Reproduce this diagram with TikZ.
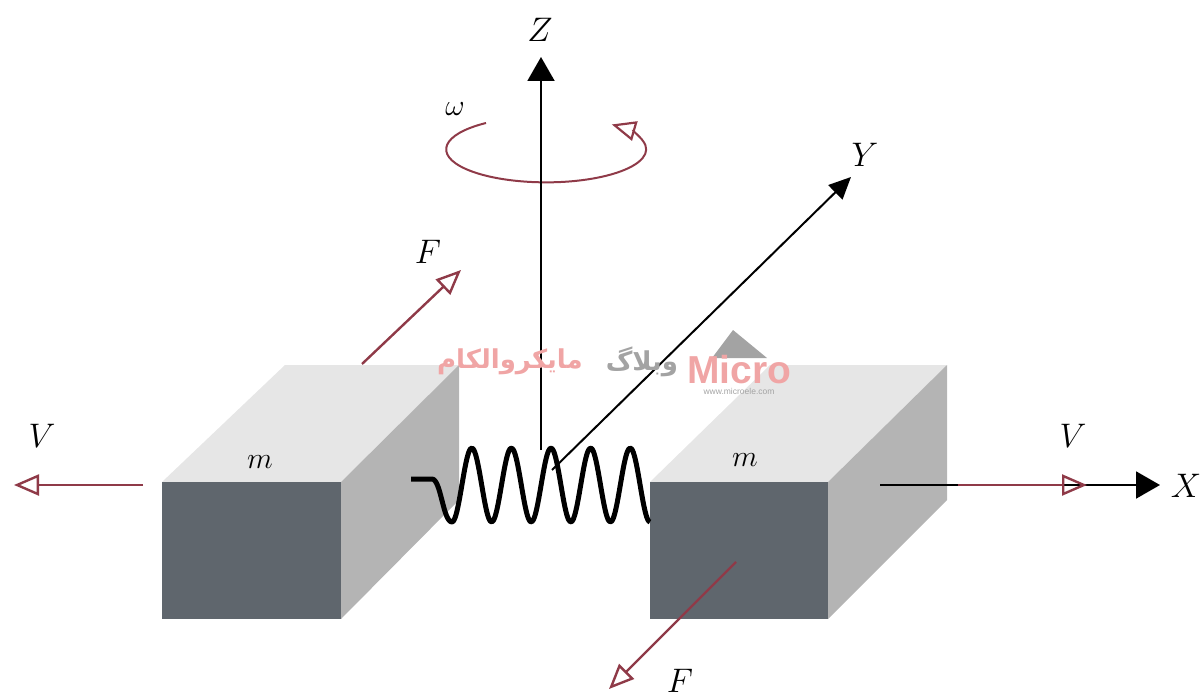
\documentclass[tikz,border=0pt]{standalone}
\usepackage{fontspec}
\usepackage{xcolor}
\usetikzlibrary{arrows.meta}
\TeXXeTstate=1
\newfontfamily\arabicfont[Script=Arabic]{DejaVu Sans}
\newfontfamily\logofont{Liberation Sans}
\definecolor{frontgray}{HTML}{5F666D}
\definecolor{topgray}{HTML}{E6E6E6}
\definecolor{sidegray}{HTML}{B4B4B4}
\definecolor{forcered}{HTML}{8F3A48}
\definecolor{markpink}{HTML}{F0A5A5}
\definecolor{markgray}{HTML}{A3A3A3}

\begin{document}
\begin{tikzpicture}[
  x=1pt, y=-1pt,
  every node/.style={inner sep=0pt},
  biglabel/.style={font=\LARGE, scale=1.97},
  smalllabel/.style={font=\Large, scale=2.08},
  front/.style={fill=frontgray},
  topface/.style={fill=topgray},
  sideface/.style={fill=sidegray},
  axis/.style={-{Triangle[length=24pt, width=27pt]}, black, line width=2pt},
  force/.style={-{Triangle[open, length=25pt, width=21pt, line width=2.4pt]}, forcered, line width=2.4pt},
  spring/.style={black, line width=5pt, line join=round}
]
\useasboundingbox (0,0) rectangle (1202,695);

% left mass
\fill[topface] (162,482) -- (341,482) -- (459,365) -- (285,365) -- cycle;
\fill[sideface] (341,482) -- (459,365) -- (459,500) -- (341,619) -- cycle;
\fill[front] (162,482) rectangle (341,619);
% right mass
\fill[topface] (650,482) -- (828,482) -- (947,365) -- (770,365) -- cycle;
\fill[sideface] (828,482) -- (947,365) -- (947,500) -- (828,619) -- cycle;
\fill[front] (650,482) rectangle (828,619);

\node[smalllabel] (massleft) at (260,462) {$m$};
\node[smalllabel] (massright) at (745,460) {$m$};

% axes
\coordinate (origin) at (541,450);
\coordinate (yfoot) at (552,470);
\coordinate (xfoot) at (880,485);
\node[biglabel] (zlabel) at (540,30) {$Z$};
\node[biglabel] (ylabel) at (865,155) {$Y$};
\node[biglabel] (xlabel) at (1186,486) {$X$};
\coordinate (ztip) at (541,57);
\coordinate (ytip) at (851,177);
\coordinate (xtip) at (1160,485);
\draw[axis] (origin) -- (ztip);
\draw[axis, -{Triangle[length=22pt, width=20pt]}] (yfoot) -- (ytip);
\draw[axis] (xfoot) -- (xtip);

% rotation
\node[smalllabel] (omega) at (455,109) {$\omega$};
\draw[force, -{Triangle[open, length=24pt, width=20pt, line width=2.2pt]}, line width=2pt] (486,123) arc[start angle=-127, end angle=-409, x radius=100, y radius=33];
\draw[black, line width=2pt] (541,165) -- (541,195);

% forces
\coordinate (fupfoot) at (362,364);
\coordinate (fuptip) at (461,270);
\coordinate (fdownfoot) at (736,562);
\coordinate (fdowntip) at (609,689);
\coordinate (vleftfoot) at (143,485);
\coordinate (vlefttip) at (14,485);
\coordinate (vrightfoot) at (958,485);
\coordinate (vrighttip) at (1087,485);
\draw[force] (fupfoot) -- (fuptip);
\draw[force] (fdownfoot) -- (fdowntip);
\draw[force] (vleftfoot) -- (vlefttip);
\draw[force] (vrightfoot) -- (vrighttip);
\node[biglabel] (fup) at (428,252) {$F$};
\node[biglabel] (fdown) at (680,681) {$F$};
\node[biglabel] (vleft) at (42,436) {$V$};
\node[biglabel] (vright) at (1073,436) {$V$};

% spring
\coordinate (springstart) at (411,479);
\coordinate (springbend) at (432,479);
\draw[spring] (springstart) -- (springbend) .. controls (441,479) and (443,522) .. (452,522)
  -- plot[domain=452:650, samples=120, smooth] (\x, {485+37*cos(9.09*(\x-452))});

% watermark
\fill[markgray] (733,330) -- (767,358) -- (712,358) -- cycle;
\node[text=markpink, font=\logofont\bfseries\fontsize{39}{44}\selectfont] (microtext) at (739,370) {Micro};
\node[text=markgray, font=\logofont\fontsize{8.5}{10}\selectfont] (microurl) at (739,391) {www.microele.com};
\node[text=markgray, font=\arabicfont\bfseries\fontsize{26}{30}\selectfont] (blogtext) at (642,362) {\beginR وبلاگ\endR};
\node[text=markpink, font=\arabicfont\bfseries\fontsize{26}{30}\selectfont] (microfa) at (510,362) {\beginR مایکروالکام\endR};
\end{tikzpicture}
\end{document}
